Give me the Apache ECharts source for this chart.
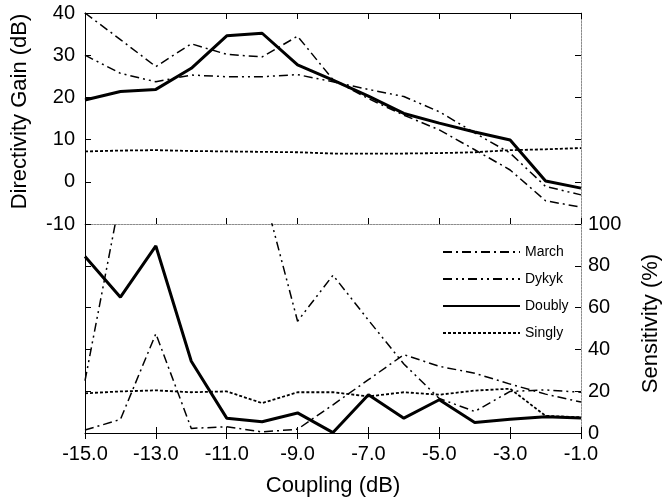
<!DOCTYPE html>
<html>
<head>
<meta charset="utf-8">
<script src="https://cdn.jsdelivr.net/npm/echarts@6/dist/echarts.min.js"></script>
<style>
  html, body { margin: 0; padding: 0; background: #fff; }
  #chart { width: 663px; height: 504px; }
</style>
</head>
<body>
<div id="chart"></div>
<script>
// Coupling values (dB) shared by both panels
const coupling = [-15, -14, -13, -12, -11, -10, -9, -8, -7, -6, -5, -4, -3, -2, -1];

// Upper panel: directivity gain (dB)
const gainMarch  = [40, 33.7, 27.3, 32.7, 30.2, 29.6, 34.5, 24.2, 19.7, 15.8, 12.3, 7.6, 2.8, -4.5, -6.0];
const gainDykyk  = [30, 25.7, 23.7, 25.3, 24.9, 24.9, 25.4, 23.7, 21.9, 20.2, 16.6, 11.6, 6.8, -1.1, -3.1];
const gainDoubly = [19.4, 21.4, 21.9, 26.9, 34.6, 35.2, 27.7, 24.1, 20.3, 16.2, 13.9, 11.8, 9.9, 0.2, -1.5];
const gainSingly = [7.2, 7.4, 7.5, 7.3, 7.2, 7.1, 7.0, 6.7, 6.7, 6.7, 6.8, 7.0, 7.5, 7.7, 8.0];

// Lower panel: sensitivity (%)
const sensMarch  = [1.4, 6.5, 47.5, 2.2, 3.0, 0.5, 1.8, 13.5, 25.5, 37.5, 31.9, 28.6, 23.4, 18.6, 14.8];
const sensDykyk  = [25, 113, 125, 130, 124, 118, 53.5, 75.5, 54, 33, 16.5, 10.3, 19.9, 20.6, 19.5];
const sensDoubly = [84.5, 65, 89.5, 34.3, 7.1, 5.4, 9.6, 0.2, 18.3, 7.1, 15.9, 5.0, 6.6, 7.8, 7.2];
const sensSingly = [19.0, 19.9, 20.4, 19.5, 19.9, 14.3, 19.5, 19.5, 17.5, 19.5, 18.3, 20.3, 21.2, 8.2, 7.5];

// Axis ranges and titles
const gainRange = { min: -10, max: 40, interval: 10 };
const sensRange = { min: 0, max: 100, interval: 20 };
const xTitle = 'Coupling (dB)';
const gainTitle = 'Directivity Gain (dB)';
const sensTitle = 'Sensitivity (%)';

const FONT = '"Liberation Sans", Arial, Helvetica, sans-serif';
const BLACK = '#000';
const GREY = '#8c8c8c';

const styles = {
  March:  { type: [9, 4, 2, 4], width: 1.5 },
  Dykyk:  { type: [9, 4, 2, 4, 2, 4], width: 1.5 },
  Doubly: { type: 'solid', width: 3 },
  Singly: { type: [3, 2], width: 1.8 }
};

const solidLine = { show: true, onZero: false, lineStyle: { color: BLACK, width: 1 } };
const greyLine = { show: true, onZero: false, lineStyle: { color: GREY, width: 1, type: [2, 1] } };
const innerTick = { show: true, inside: true, length: 6, lineStyle: { color: BLACK, width: 1 } };

function xAxis(gridIndex, position, line, withLabels) {
  const ax = {
    type: 'category',
    gridIndex: gridIndex,
    position: position,
    data: coupling,
    boundaryGap: false,
    axisLine: line,
    axisTick: Object.assign({ interval: 1 }, innerTick),
    axisLabel: { show: false },
    splitLine: { show: false }
  };
  if (withLabels) {
    ax.axisLabel = {
      show: true, interval: 1, margin: 11,
      fontFamily: FONT, fontSize: 20, color: BLACK,
      formatter: v => Number(v).toFixed(1)
    };
    ax.name = xTitle;
    ax.nameLocation = 'middle';
    ax.nameGap = 42;
    ax.nameTextStyle = { fontFamily: FONT, fontSize: 22, color: BLACK };
  }
  return ax;
}

function yAxis(gridIndex, position, range, line, labelMargin) {
  const ax = Object.assign({
    type: 'value',
    gridIndex: gridIndex,
    position: position,
    axisLine: line,
    axisTick: innerTick,
    axisLabel: { show: false },
    splitLine: { show: false }
  }, range);
  if (labelMargin !== undefined) {
    ax.axisLabel = { show: true, margin: labelMargin, fontFamily: FONT, fontSize: 20, color: BLACK };
  }
  return ax;
}

const yGainLeft = yAxis(0, 'left', gainRange, solidLine, 10);
yGainLeft.name = gainTitle;
yGainLeft.nameLocation = 'middle';
yGainLeft.nameRotate = 90;
yGainLeft.nameGap = 54;
yGainLeft.nameTextStyle = { fontFamily: FONT, fontSize: 22, color: BLACK, padding: [0, 0, 0, 14] };

const ySensRight = yAxis(1, 'right', sensRange, greyLine, 7);
ySensRight.name = sensTitle;
ySensRight.nameLocation = 'middle';
ySensRight.nameRotate = 90;
ySensRight.nameGap = 59;
ySensRight.nameTextStyle = { fontFamily: FONT, fontSize: 22, color: BLACK, padding: [0, 0, 0, 10] };

function line(name, data, xi, yi) {
  return {
    name: name,
    type: 'line',
    xAxisIndex: xi,
    yAxisIndex: yi,
    data: data,
    symbol: 'none',
    clip: true,
    lineStyle: Object.assign({ color: BLACK }, styles[name]),
    itemStyle: { color: BLACK },
    z: name === 'Doubly' ? 4 : 3
  };
}

const option = {
  animation: false,
  backgroundColor: '#fff',
  textStyle: { fontFamily: FONT },
  grid: [
    { left: 85, top: 13, width: 496, height: 211, containLabel: false, outerBoundsMode: 'none' },
    { left: 85, top: 224, width: 496, height: 209, containLabel: false, outerBoundsMode: 'none' }
  ],
  legend: {
    orient: 'vertical',
    left: 437,
    top: 240,
    itemWidth: 77,
    itemHeight: 14,
    itemGap: 13,
    selectedMode: false,
    // the key shows only the line pattern, no marker
    itemStyle: { opacity: 0 },
    data: ['March', 'Dykyk', 'Doubly', 'Singly'],
    textStyle: { fontFamily: FONT, fontSize: 14, color: BLACK }
  },
  xAxis: [
    xAxis(0, 'top', solidLine, false),
    xAxis(0, 'bottom', greyLine, false),
    xAxis(1, 'top', { show: false }, false),
    xAxis(1, 'bottom', solidLine, true)
  ],
  yAxis: [
    yGainLeft,
    yAxis(0, 'right', gainRange, greyLine),
    yAxis(1, 'left', sensRange, solidLine),
    ySensRight
  ],
  series: [
    line('March', gainMarch, 0, 0),
    line('Dykyk', gainDykyk, 0, 0),
    line('Doubly', gainDoubly, 0, 0),
    line('Singly', gainSingly, 0, 0),
    line('March', sensMarch, 3, 3),
    line('Dykyk', sensDykyk, 3, 3),
    line('Doubly', sensDoubly, 3, 3),
    line('Singly', sensSingly, 3, 3)
  ]
};

const chart = echarts.init(document.getElementById('chart'), null, { renderer: 'canvas' });
chart.setOption(option);
</script>
</body>
</html>
